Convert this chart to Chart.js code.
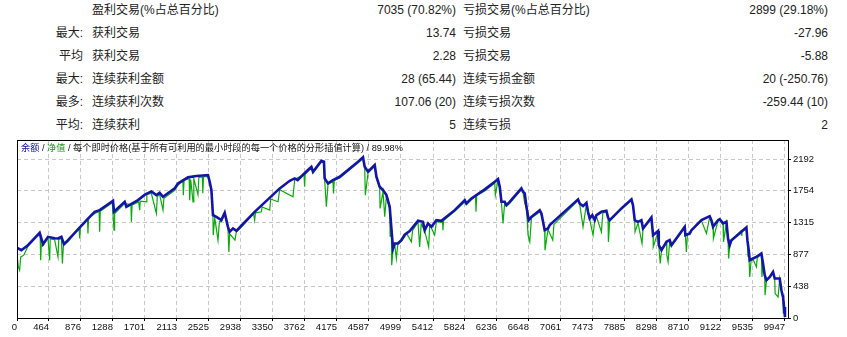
<!DOCTYPE html>
<html>
<head>
<meta charset="utf-8">
<script src="https://cdn.jsdelivr.net/npm/chart.js@4/dist/chart.umd.min.js"></script>
<style>
body{margin:0;background:#fff;width:847px;height:337px;overflow:hidden;position:relative;
  font-family:'Liberation Sans','Noto Sans CJK SC',sans-serif;color:#222;}
.cell{position:absolute;font-size:12px;line-height:14px;white-space:nowrap}
.right{text-align:right}
#title{position:absolute;left:21px;top:143px;font-size:9.2px;line-height:11px;white-space:nowrap;color:#111;z-index:2}
#wrap{position:absolute;left:0;top:130px;width:847px;height:207px}
</style>
</head>
<body>
<div id="stats"></div>
<div id="title"><span style="color:#1010a0">余额</span> / <span style="color:#10a010">净值</span> / 每个即时价格(基于所有可利用的最小时段的每一个价格的分形插值计算) / 89.98%</div>
<div id="wrap"><canvas id="graph"></canvas></div>
<script>
// Stats table
var statPrefix = ['', '最大:', '平均', '最大:', '最多:', '平均:'];
var winNames = ['盈利交易(%占总百分比)', '获利交易', '获利交易', '连续获利金额', '连续获利次数', '连续获利'];
var winValues = ['7035 (70.82%)', '13.74', '2.28', '28 (65.44)', '107.06 (20)', '5'];
var lossNames = ['亏损交易(%占总百分比)', '亏损交易', '亏损交易', '连续亏损金额', '连续亏损次数', '连续亏损'];
var lossValues = ['2899 (29.18%)', '-27.96', '-5.88', '20 (-250.76)', '-259.44 (10)', '2'];

// Graph data (trade number / value)
var balanceTrades = [0,108,193,344,387,451,537,580,624,657,709,1010,1053,1117,1289,1302,1440,1461,1611,1700,1783,1848,1890,1933,2084,2126,2255,2363,2513,2535,2557,2577,2621,2685,2728,2770,2792,2835,2879,2921,3114,3437,3566,3630,3668,3801,3845,3866,3974,4007,4016,4059,4123,4210,4446,4510,4532,4575,4661,4683,4725,4768,4812,4854,4876,4897,4919,4958,5005,5047,5112,5219,5283,5305,5348,5392,5456,5520,5692,5821,5842,5907,6079,6208,6250,6272,6294,6336,6358,6400,6551,6572,6594,6616,6645,6680,6787,6809,6830,6851,6894,6916,7281,7302,7345,7389,7409,7431,7465,7496,7518,7582,7646,7667,7689,7840,7969,7989,8011,8054,8097,8118,8226,8247,8312,8321,8356,8420,8462,8484,8655,8664,8720,8742,8806,8871,8977,8999,9020,9084,9106,9149,9193,9213,9235,9257,9450,9463,9480,9493,9535,9579,9643,9664,9686,9708,9751,9793,9815,9879,9901,9922,9935,9947];
var balanceValues = [1000,935,1004,1174,1018,1119,1100,1097,1119,1018,1073,1418,1464,1487,1616,1464,1602,1533,1625,1700,1745,1694,1726,1671,1787,1856,1939,1957,1971,1878,1764,1418,1395,1349,1450,1257,1188,1235,1201,1248,1464,1787,1892,1925,1902,2040,2085,2016,2168,2154,1925,1856,1902,1947,2154,2215,2085,2016,2109,1947,1809,1764,1694,1533,1235,958,1027,1027,1073,1150,1200,1340,1326,1211,1304,1257,1349,1340,1487,1625,1580,1649,1773,1878,1915,1809,1602,1602,1556,1600,1787,1740,1718,1533,1349,1395,1487,1442,1326,1211,1235,1280,1635,1580,1543,1588,1464,1373,1418,1349,1418,1464,1478,1387,1349,1511,1635,1556,1349,1326,1349,1235,1387,1142,1201,1004,935,1050,1073,1004,1257,1142,1166,1211,1280,1349,1404,1349,1257,1349,1363,1304,1326,1097,1004,1073,1248,1073,935,797,820,843,889,751,590,521,566,635,544,544,383,290,152,14];
var equityTrades = [0,40,70,86,100,140,193,300,350,357,365,387,451,473,480,537,580,590,624,637,650,709,850,860,870,960,966,975,1053,1110,1117,1125,1280,1302,1310,1440,1520,1526,1535,1620,1633,1640,1719,1725,1783,1848,1860,1890,1933,1945,2084,2126,2190,2195,2205,2270,2277,2290,2320,2330,2384,2395,2440,2446,2455,2513,2535,2557,2577,2580,2600,2642,2660,2685,2728,2770,2782,2792,2860,2879,2921,3100,3114,3125,3201,3210,3308,3320,3415,3437,3608,3630,3750,3758,3765,3801,3845,3866,3974,4007,4016,4038,4059,4123,4130,4140,4210,4446,4510,4532,4540,4575,4661,4683,4725,4730,4768,4790,4812,4854,4860,4876,4880,4897,4919,4940,4958,5005,5047,5070,5133,5150,5219,5240,5260,5305,5356,5370,5392,5433,5456,5520,5535,5540,5548,5692,5821,5842,5907,5960,5966,5975,6079,6208,6215,6250,6272,6294,6314,6336,6358,6400,6551,6572,6594,6616,6637,6659,6680,6787,6809,6830,6851,6855,6894,6955,6970,7281,7302,7345,7389,7409,7431,7474,7496,7518,7582,7600,7646,7667,7672,7689,7840,7969,7989,8011,8015,8054,8105,8118,8226,8247,8250,8312,8321,8340,8356,8420,8425,8441,8462,8484,8655,8664,8677,8690,8720,8742,8806,8871,8935,8977,8999,9020,9025,9084,9106,9149,9155,9193,9213,9221,9235,9257,9380,9385,9392,9450,9463,9470,9480,9493,9510,9535,9579,9590,9643,9650,9664,9686,9690,9708,9751,9793,9815,9820,9858,9879,9901,9922,9925,9935,9947];
var equityValues = [1000,990,700,659,842,866,990,1120,1150,797,1010,1000,1100,797,1090,1080,842,1080,1100,751,1000,1050,1250,1097,1260,1370,1166,1380,1440,1470,1188,1470,1590,1211,1440,1580,1560,1326,1560,1600,1487,1610,1602,1700,1720,1442,1680,1700,1487,1650,1760,1830,1890,1694,1900,1920,1625,1910,1602,1920,1700,1940,1945,1720,1950,1950,1860,1740,1400,1142,1380,1073,1330,1330,1430,1240,911,1160,1073,1190,1230,1440,1349,1450,1464,1530,1487,1640,1602,1770,1671,1910,1980,1809,1985,2020,2070,2000,2150,2140,1900,1533,1840,1890,1718,1895,1930,2140,2200,2070,1694,2000,2090,1930,1790,1511,1740,1395,1680,1510,1119,1220,728,940,1010,820,1010,1060,1119,1170,1050,1210,1320,981,1300,1200,981,1280,1240,1142,1330,1320,1340,1211,1345,1470,1600,1560,1630,1680,1464,1690,1750,1860,1694,1900,1790,1590,1304,1590,1540,1580,1770,1730,1580,1520,1142,1050,1380,1460,1430,1310,1200,935,1220,1073,1290,1620,1570,1257,1570,1450,1360,1142,1340,1400,1188,1450,1460,1380,1050,1340,1500,1620,1540,1340,1188,1310,1027,1220,1370,1130,981,1190,1000,751,930,1040,866,774,1060,990,1240,1130,911,1150,1150,1200,1270,1340,1166,1390,1340,1250,1097,1340,1350,1290,1050,1310,1090,820,1000,1060,1200,1142,1205,1240,1060,843,930,566,790,810,704,830,880,566,740,580,313,510,560,630,540,337,290,540,380,280,61,150,10];
var xTickLabels = [0,464,876,1288,1701,2113,2525,2938,3350,3762,4175,4587,4999,5412,5824,6236,6648,7061,7473,7885,8298,8710,9122,9535,9947];
var yTickLabels = [0,438,877,1315,1754,2192];

var stats = document.getElementById('stats');
function cell(text, left, width, rowTop, cls) {
  var d = document.createElement('div');
  d.className = 'cell' + (cls ? ' ' + cls : '');
  d.style.left = left + 'px';
  if (width) d.style.width = width + 'px';
  d.style.top = rowTop + 'px';
  d.textContent = text;
  stats.appendChild(d);
}
for (var i = 0; i < winNames.length; i++) {
  var rowTop = 3 + i * 23;
  cell(statPrefix[i], 0, 83, rowTop, 'right');
  cell(winNames[i], 92, 0, rowTop);
  cell(winValues[i], 0, 456, rowTop, 'right');
  cell(lossNames[i], 463, 0, rowTop);
  cell(lossValues[i], 0, 828, rowTop, 'right');
}

function points(xs, ys) {
  return xs.map(function (x, i) { return {x: x, y: ys[i]}; });
}

var frame = {
  id: 'frame',
  afterDraw: function (chart) {
    var a = chart.chartArea, ctx = chart.ctx;
    ctx.save();
    ctx.strokeStyle = '#000';
    ctx.lineWidth = 1;
    ctx.strokeRect(a.left + 0.5, a.top + 0.5, a.right - a.left, a.bottom - a.top);
    ctx.restore();
  }
};

var tickFont = {family: 'Liberation Sans', size: 9.5};
var graph = new Chart(document.getElementById('graph').getContext('2d'), {
  type: 'line',
  data: {
    datasets: [{
      label: '余额',
      data: points(balanceTrades, balanceValues),
      borderColor: '#1414a8',
      borderWidth: 2.6,
      pointRadius: 0,
      tension: 0,
      clip: 0
    }, {
      label: '净值',
      data: points(equityTrades, equityValues),
      borderColor: '#0aaa0a',
      borderWidth: 1.2,
      pointRadius: 0,
      tension: 0,
      clip: 0
    }]
  },
  options: {
    responsive: true,
    maintainAspectRatio: false,
    animation: false,
    events: [],
    layout: {padding: {left: 17, top: 10, right: 0, bottom: 0}},
    plugins: {legend: {display: false}, tooltip: {enabled: false}},
    scales: {
      x: {
        type: 'linear',
        min: 52,
        max: 9986,
        afterBuildTicks: function (s) {
          s.ticks = xTickLabels.map(function (v) { return {value: Math.max(v, 52)}; });
        },
        afterFit: function (s) { s.height = 19; },
        grid: {color: '#c8c8c8', tickLength: 3, tickColor: '#000'},
        border: {display: false, dash: [4, 3]},
        ticks: {
          align: 'end', maxRotation: 0, autoSkip: false, padding: 1,
          color: '#111', font: tickFont,
          callback: function (v, i) { return String(xTickLabels[i]); }
        }
      },
      y: {
        position: 'right',
        min: 0,
        max: 2454,
        afterBuildTicks: function (s) {
          s.ticks = yTickLabels.map(function (v) { return {value: v}; });
        },
        afterFit: function (s) { s.width = 59; },
        grid: {color: '#c8c8c8', tickLength: 3, tickColor: '#000'},
        border: {display: false, dash: [4, 3]},
        ticks: {
          padding: 2, color: '#111', font: tickFont,
          callback: function (v, i) { return String(yTickLabels[i]); }
        }
      }
    }
  },
  plugins: [frame]
});
</script>
</body>
</html>
